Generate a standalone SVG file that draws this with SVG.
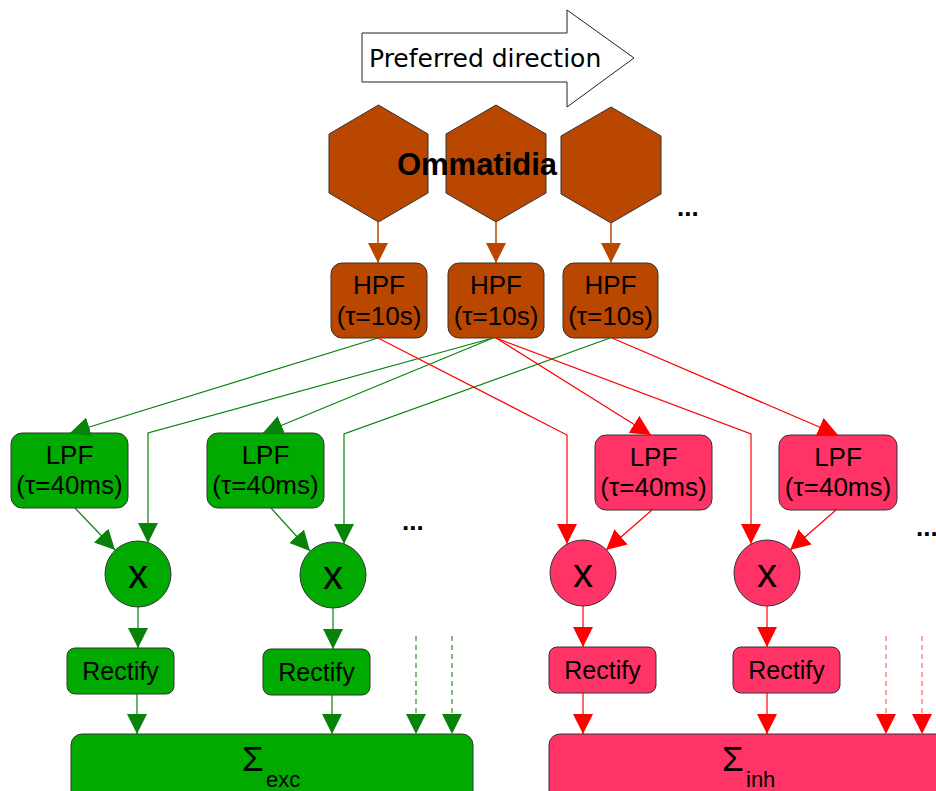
<svg xmlns="http://www.w3.org/2000/svg" width="936" height="791" viewBox="0 0 936 791">
<style>
text{font-family:"Liberation Sans",Arial,sans-serif;fill:#000}
.t26{font-size:26px;text-anchor:middle}
.hex{fill:#b94700;stroke:#333;stroke-width:1}
.hpf{fill:#b94700;stroke:#333;stroke-width:1}
.g{fill:#00aa00;stroke:#333;stroke-width:1}
.r{fill:#ff3366;stroke:#333;stroke-width:1}
.cb{stroke:#b94700;stroke-width:1.5;fill:none;marker-end:url(#ab)}
.cg{stroke:#088208;stroke-width:1.2;fill:none;marker-end:url(#ag)}
.cr{stroke:#ff0000;stroke-width:1.2;fill:none;marker-end:url(#ar)}
.dg{stroke:#2e8b2e;stroke-width:1.2;stroke-dasharray:5,4;fill:none;marker-end:url(#ag)}
.dr{stroke:#ff6060;stroke-width:1.2;stroke-dasharray:5,4;fill:none;marker-end:url(#ar)}
.x{font-size:40px;text-anchor:middle}
.dots{font-size:26px;font-weight:bold}
</style>
<defs>
<marker id="ab" markerUnits="userSpaceOnUse" markerWidth="20" markerHeight="20" viewBox="0 0 20 20" refX="20" refY="10" orient="auto"><path d="M0,0 L20,10 L0,20 z" fill="#b94700"/></marker>
<marker id="ag" markerUnits="userSpaceOnUse" markerWidth="20" markerHeight="20" viewBox="0 0 20 20" refX="20" refY="10" orient="auto"><path d="M0,0 L20,10 L0,20 z" fill="#088208"/></marker>
<marker id="ar" markerUnits="userSpaceOnUse" markerWidth="20" markerHeight="20" viewBox="0 0 20 20" refX="20" refY="10" orient="auto"><path d="M0,0 L20,10 L0,20 z" fill="#ff0000"/></marker>
</defs>

<g id="direction">
<polygon points="362,33 567,33 567,10 634,58 567,107 567,82 362,82" fill="#fff" stroke="#222" stroke-width="1"/>
<text x="369" y="67" style="font-family:'DejaVu Sans',sans-serif;font-size:25px">Preferred direction</text>
</g>

<g id="ommatidia">
<polygon class="hex" points="378.5,105 428,134 428,193 378.5,222 329,193 329,134"/>
<polygon class="hex" points="496,105 546,134 546,193 496,222 446,193 446,134"/>
<polygon class="hex" points="611,107 661,136 661,194 611,223 561,194 561,136"/>
<text x="477" y="175" style="font-size:31px;font-weight:bold;text-anchor:middle">Ommatidia</text>
</g>
<g id="dots"><text class="dots" x="677" y="216">...</text><text class="dots" x="402" y="530">...</text><text class="dots" x="916" y="536">...</text></g>

<g id="hpf1"><rect class="hpf" x="331" y="263" width="96" height="75" rx="11"/><text class="t26" x="379" y="294">HPF</text><text class="t26" x="379" y="325">(τ=10s)</text></g>
<g id="hpf2"><rect class="hpf" x="448" y="263" width="96" height="75" rx="11"/><text class="t26" x="496" y="294">HPF</text><text class="t26" x="496" y="325">(τ=10s)</text></g>
<g id="hpf3"><rect class="hpf" x="563" y="263" width="95" height="75" rx="11"/><text class="t26" x="610.5" y="294">HPF</text><text class="t26" x="610.5" y="325">(τ=10s)</text></g>

<g id="lpf1"><rect class="g" x="11" y="433" width="117" height="75" rx="11"/><text class="t26" x="69.5" y="464">LPF</text><text class="t26" x="69.5" y="494">(τ=40ms)</text></g>
<g id="lpf2"><rect class="g" x="207" y="433" width="117" height="75" rx="11"/><text class="t26" x="265.5" y="464">LPF</text><text class="t26" x="265.5" y="494">(τ=40ms)</text></g>
<g id="lpf3"><rect class="r" x="595" y="435" width="117" height="75" rx="11"/><text class="t26" x="653.5" y="466">LPF</text><text class="t26" x="653.5" y="496">(τ=40ms)</text></g>
<g id="lpf4"><rect class="r" x="779" y="435" width="118" height="75" rx="11"/><text class="t26" x="838" y="466">LPF</text><text class="t26" x="838" y="496">(τ=40ms)</text></g>

<g id="mul1"><circle class="g" cx="138" cy="574" r="33"/><text class="x" x="138" y="588">x</text></g>
<g id="mul2"><circle class="g" cx="333" cy="575" r="33"/><text class="x" x="333" y="589">x</text></g>
<g id="mul3"><circle class="r" cx="583" cy="573" r="33"/><text class="x" x="583" y="587">x</text></g>
<g id="mul4"><circle class="r" cx="767" cy="573" r="33"/><text class="x" x="767" y="587">x</text></g>

<g id="rect1"><rect class="g" x="67" y="648" width="107" height="46" rx="8"/><text class="t26" x="120.5" y="680" style="font-size:25px">Rectify</text></g>
<g id="rect2"><rect class="g" x="263" y="649" width="107" height="46" rx="8"/><text class="t26" x="316.5" y="681" style="font-size:25px">Rectify</text></g>
<g id="rect3"><rect class="r" x="549" y="647" width="107" height="46" rx="8"/><text class="t26" x="602.5" y="679" style="font-size:25px">Rectify</text></g>
<g id="rect4"><rect class="r" x="733" y="647" width="107" height="46" rx="8"/><text class="t26" x="786.5" y="679" style="font-size:25px">Rectify</text></g>

<g id="sumexc"><rect class="g" x="71" y="734" width="402" height="80" rx="11"/><text x="242" y="771" style="font-size:35px">Σ</text><text x="266" y="787" style="font-size:22px">exc</text></g>
<g id="suminh"><rect class="r" x="549" y="734" width="420" height="80" rx="11"/><text x="722" y="771" style="font-size:35px">Σ</text><text x="746" y="787" style="font-size:22px">inh</text></g>

<g id="connectors">
<line class="cb" x1="378" y1="222" x2="378" y2="263"/>
<line class="cb" x1="496" y1="222" x2="496" y2="263"/>
<line class="cb" x1="611" y1="223" x2="611" y2="263"/>

<line class="cg" x1="378" y1="338" x2="70" y2="433"/>
<polyline class="cg" points="493,338 148,433 148,543"/>
<line class="cg" x1="493" y1="338" x2="263" y2="433"/>
<polyline class="cg" points="610,338 344,434 344,544"/>

<polyline class="cr" points="378,338 567,435 567,544"/>
<line class="cr" x1="496" y1="338" x2="651" y2="435"/>
<polyline class="cr" points="496,338 751,434 751,544"/>
<line class="cr" x1="612" y1="338" x2="838" y2="435"/>

<line class="cg" x1="75" y1="508" x2="115" y2="550"/>
<line class="cg" x1="271" y1="508" x2="310" y2="551"/>
<line class="cr" x1="652" y1="510" x2="606" y2="550"/>
<line class="cr" x1="836" y1="510" x2="790" y2="550"/>

<line class="cg" x1="138" y1="607" x2="138" y2="648"/>
<line class="cg" x1="333" y1="608" x2="333" y2="649"/>
<line class="cr" x1="583" y1="606" x2="583" y2="647"/>
<line class="cr" x1="767" y1="606" x2="767" y2="647"/>

<line class="cg" x1="137" y1="694" x2="137" y2="734"/>
<line class="cg" x1="332" y1="695" x2="332" y2="734"/>
<line class="cr" x1="583" y1="693" x2="583" y2="734"/>
<line class="cr" x1="767" y1="693" x2="767" y2="734"/>

<line class="dg" x1="416" y1="636" x2="416" y2="734"/>
<line class="dg" x1="452" y1="636" x2="452" y2="734"/>
<line class="dr" x1="886" y1="636" x2="886" y2="734"/>
<line class="dr" x1="922" y1="636" x2="922" y2="734"/>
</g>
</svg>
